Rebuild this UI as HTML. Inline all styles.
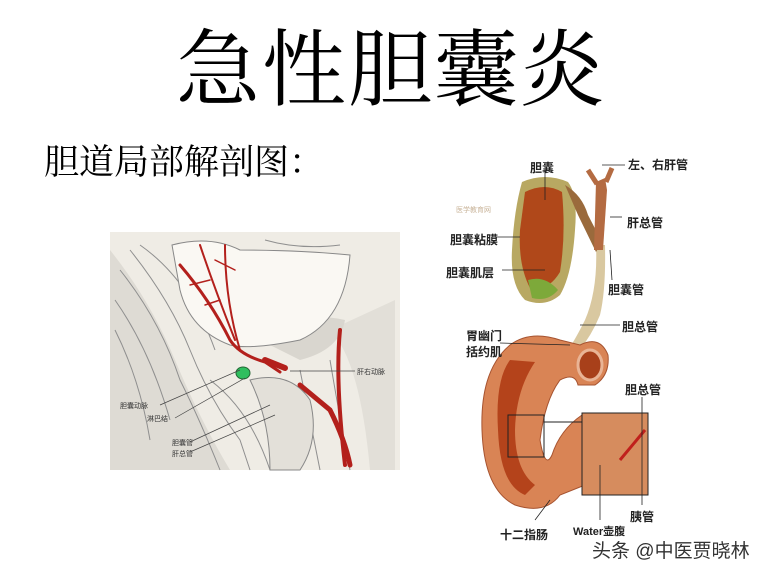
<!DOCTYPE html>
<html><head><meta charset="utf-8"><style>
html,body{margin:0;padding:0;background:#fff;}
body{width:769px;height:577px;position:relative;overflow:hidden;font-family:"Liberation Serif","Noto Serif CJK SC",serif;}
.t{position:absolute;white-space:nowrap;}
</style></head><body>
<div class="t" style="left:176px;top:24px;font-size:84px;line-height:96px;letter-spacing:2px;">急性胆囊炎</div>
<div class="t" style="left:44px;top:140px;font-size:35px;line-height:46px;">胆道局部解剖图：</div>

<svg style="position:absolute;left:0;top:0" width="769" height="577">
 <!-- left illustration -->
 <rect x="110" y="232" width="290" height="238" fill="#efece5"/>
 <path d="M110 250 Q150 300 175 360 Q200 420 230 470 L110 470Z" fill="#dedbd4"/>
 <path d="M330 330 Q360 360 370 470 L395 470 L395 300Z" fill="#e2dfd8"/>
 <path d="M240 330 Q300 310 345 320 Q340 350 300 360 Z" fill="#d9d6cf"/>
 <g fill="none" stroke="#8f8f8f" stroke-width="1">
  <path d="M130 250 Q170 300 190 350 Q210 400 240 440 L250 470"/>
  <path d="M120 270 Q160 320 180 380 Q200 420 220 470"/>
  <path d="M140 245 Q190 280 215 350"/>
  <path d="M300 370 Q310 420 320 470"/>
  <path d="M330 360 Q340 420 350 470"/>
  <path d="M115 300 Q150 350 170 420"/>
  <path d="M115 330 Q140 380 150 440"/>
  <path d="M265 240 Q300 250 340 245"/>
  <path d="M210 380 Q250 410 270 470"/>
 </g>
 <path d="M172 245 Q210 235 240 250 Q300 250 350 255 Q345 320 300 340 Q250 350 230 345 Q190 330 180 290 Z" fill="#faf8f3" stroke="#888" stroke-width="1"/>
 <path d="M250 380 Q290 370 310 400 Q320 440 300 470 L270 470 Q270 420 250 380Z" fill="#e3e0d9" stroke="#888"/>
 <g stroke="#b3201c" fill="none" stroke-linecap="round">
  <path d="M180 265 Q210 300 230 340 Q240 355 265 362 L280 372" stroke-width="3"/>
  <path d="M200 245 Q215 290 235 340" stroke-width="2"/>
  <path d="M225 245 Q225 300 240 350" stroke-width="2"/>
  <path d="M190 285 L210 280 M205 305 L220 300 M215 260 L235 270" stroke-width="1.5"/>
  <path d="M300 385 L330 410 Q345 440 350 465" stroke-width="5"/>
  <path d="M340 330 Q335 380 345 465" stroke-width="4"/>
  <path d="M265 360 L285 368" stroke-width="6"/>
 </g>
 <ellipse cx="243" cy="373" rx="7" ry="6" fill="#2fbf5e" stroke="#226633"/>
 <g stroke="#444" stroke-width="0.7">
  <line x1="290" y1="371" x2="355" y2="371"/>
  <line x1="160" y1="405" x2="240" y2="370"/>
  <line x1="175" y1="418" x2="245" y2="378"/>
  <line x1="190" y1="442" x2="270" y2="405"/>
  <line x1="190" y1="452" x2="275" y2="415"/>
 </g>
 <g font-family="Liberation Sans,Noto Sans CJK SC,sans-serif" font-size="7" fill="#333">
  <text x="357" y="374">肝右动脉</text>
  <text x="120" y="408">胆囊动脉</text>
  <text x="147" y="421">淋巴结</text>
  <text x="172" y="445">胆囊管</text>
  <text x="172" y="456">肝总管</text>
 </g>

 <!-- right illustration -->
 <path d="M596 245 Q598 290 585 320 Q575 340 568 350 L578 352 Q592 335 600 315 Q606 290 605 245Z" fill="#d9c8a0"/>
 <path d="M522 182 Q545 172 568 182 Q578 195 575 230 Q572 275 560 295 Q545 308 525 300 Q510 285 512 250 Q514 210 522 182Z" fill="#b8a862"/>
 <path d="M525 192 Q545 182 562 192 Q566 235 560 272 Q548 292 530 288 Q518 265 520 230Z" fill="#b0481a"/>
 <path d="M528 280 Q545 275 558 290 Q548 302 532 298Z" fill="#7da93a"/>
 <path d="M565 185 Q582 195 588 215 L602 242 L596 252 L578 215Z" fill="#9a6a3c"/>
 <path d="M596 182 L605 178 L607 190 L603 250 L594 250 Z" fill="#b46b42"/>
 <path d="M588 170 L597 184 M612 168 L606 182" stroke="#b46b42" stroke-width="5"/>
 <!-- duodenum -->
 <path d="M560 340 Q530 330 510 345 Q480 370 482 430 Q484 490 515 505 Q545 515 560 495 L585 485 L582 415 Q560 430 552 455 Q545 470 540 440 Q545 400 560 380 Q575 372 578 385 L595 385 Q610 375 608 355 Q600 335 580 345Z" fill="#d98455" stroke="#a65330" stroke-width="1"/>
 <path d="M510 360 Q495 380 498 430 Q500 485 525 495 L535 485 Q515 470 515 430 Q516 390 535 362Z" fill="#b4431b"/>
 <ellipse cx="590" cy="365" rx="12" ry="15" fill="#a8401a" stroke="#e9b495" stroke-width="3"/>
 <rect x="582" y="413" width="66" height="82" fill="#d68c5e" stroke="#222" stroke-width="1"/>
 <path d="M620 460 L645 430" stroke="#c0201c" stroke-width="3"/>
 <rect x="508" y="415" width="36" height="42" fill="none" stroke="#222" stroke-width="1"/>
 <line x1="544" y1="422" x2="582" y2="422" stroke="#222"/>
 <g stroke="#222" stroke-width="0.8">
  <line x1="492" y1="237" x2="520" y2="237"/>
  <line x1="502" y1="270" x2="545" y2="270"/>
  <line x1="545" y1="170" x2="545" y2="200"/>
  <line x1="610" y1="217" x2="622" y2="217"/>
  <line x1="602" y1="165" x2="625" y2="165"/>
  <line x1="610" y1="250" x2="612" y2="280"/>
  <line x1="580" y1="325" x2="620" y2="325"/>
  <line x1="500" y1="343" x2="570" y2="345"/>
  <line x1="642" y1="397" x2="642" y2="505"/>
  <line x1="600" y1="465" x2="600" y2="520"/>
  <line x1="535" y1="520" x2="550" y2="500"/>
 </g>
 <g font-family="Liberation Sans,Noto Sans CJK SC,sans-serif" font-size="12" fill="#222" font-weight="bold">
  <text x="530" y="172">胆囊</text>
  <text x="628" y="169">左、右肝管</text>
  <text x="450" y="244">胆囊粘膜</text>
  <text x="446" y="277">胆囊肌层</text>
  <text x="627" y="227">肝总管</text>
  <text x="608" y="294">胆囊管</text>
  <text x="622" y="331">胆总管</text>
  <text x="466" y="340">胃幽门</text>
  <text x="466" y="356">括约肌</text>
  <text x="625" y="394">胆总管</text>
  <text x="630" y="521">胰管</text>
  <text x="573" y="535" font-size="11">Water壶腹</text>
  <text x="500" y="539">十二指肠</text>
 </g>
 <text x="456" y="212" font-family="Liberation Sans,Noto Sans CJK SC,sans-serif" font-size="7" fill="#c9b49a">医学教育网</text>
</svg>
<div class="t" style="left:592px;top:539px;font-size:19px;line-height:26px;color:#333;font-family:'Liberation Sans','Noto Sans CJK SC',sans-serif;">头条 @中医贾晓林</div>
</body></html>
